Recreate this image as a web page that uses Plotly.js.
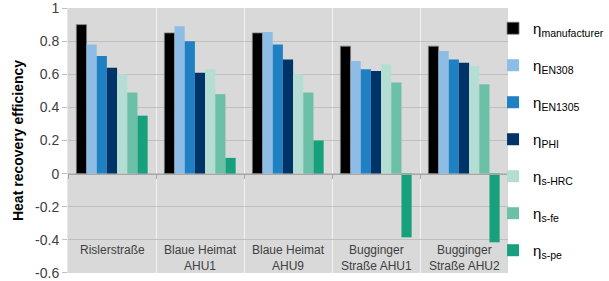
<!DOCTYPE html>
<html><head><meta charset="utf-8">
<script src="https://cdn.plot.ly/plotly-3.0.1.min.js"></script>
<style>html,body{margin:0;padding:0;background:#fff}#c{width:609px;height:281px}</style>
</head><body><div id="c"></div>
<script>
const categories = ["Rislerstraße", "Blaue Heimat<br>AHU1", "Blaue Heimat<br>AHU9", "Bugginger<br>Straße AHU1", "Bugginger<br>Straße AHU2"];
const seriesNames = ["η<sub>manufacturer</sub>", "η<sub>EN308</sub>", "η<sub>EN1305</sub>", "η<sub>PHI</sub>", "η<sub>s-HRC</sub>", "η<sub>s-fe</sub>", "η<sub>s-pe</sub>"];
const etaManufacturer = [0.90, 0.85, 0.85, 0.77, 0.77];
const etaEN308 = [0.78, 0.89, 0.855, 0.68, 0.74];
const etaEN1305 = [0.71, 0.80, 0.78, 0.63, 0.69];
const etaPHI = [0.64, 0.61, 0.69, 0.62, 0.67];
const etaSHRC = [0.60, 0.63, 0.60, 0.66, 0.65];
const etaSFe = [0.49, 0.48, 0.49, 0.55, 0.54];
const etaSPe = [0.35, 0.095, 0.20, -0.385, -0.415];
const yTicks = [1, 0.8, 0.6, 0.4, 0.2, 0, -0.2, -0.4, -0.6];
const colors = ["#000000", "#8dbde6", "#1f80c4", "#003469", "#b4ddd3", "#6cc0a8", "#17a07c"];

const allSeries = [etaManufacturer, etaEN308, etaEN1305, etaPHI, etaSHRC, etaSFe, etaSPe];
const traces = allSeries.map((vals, i) => ({
  type: "bar", x: categories, y: vals, name: seriesNames[i],
  legendgroup: "g" + i,
  marker: {color: colors[i], line: {width: i === 0 ? 0.8 : 0, color: "#7f7f7f"}}
}));

const annotations = categories.map(c => ({
  x: c, y: -0.405, xref: "x", yref: "y", text: c, showarrow: false,
  yanchor: "top", align: "center",
  font: {family: "Liberation Sans, Arial, sans-serif", size: 12, color: "#404040"}
}));

const layout = {
  width: 609, height: 281,
  margin: {l: 68, r: 101, t: 8, b: 8, autoexpand: false},
  paper_bgcolor: "#ffffff", plot_bgcolor: "#d9d9d9",
  barmode: "group", bargap: 0.19, bargroupgap: 0,
  showlegend: true,
  legend: {x: 0.966, xanchor: "left", y: 0.985, yanchor: "top", itemwidth: 30,
    font: {family: "Liberation Sans, Arial, sans-serif", size: 15, color: "#000"},
    tracegroupgap: 14.5, bgcolor: "rgba(0,0,0,0)"},
  xaxis: {type: "category", anchor: "free", position: 0.375,
    showticklabels: false, tickson: "boundaries", ticks: "outside", ticklen: 4,
    tickcolor: "#a6a6a6", showline: true, linecolor: "#a6a6a6", linewidth: 1,
    showgrid: true, gridcolor: "#f2f2f2", gridwidth: 1, zeroline: false},
  yaxis: {range: [-0.6005, 1.0005], tickvals: yTicks, ticktext: yTicks.map(v => String(v)),
    ticklabeloverflow: "allow",
    showgrid: true, gridcolor: "#bfbfbf", gridwidth: 1, zeroline: false,
    ticks: "outside", ticklen: 5, tickcolor: "#bfbfbf", showline: true, linecolor: "#e6e6e6",
    tickfont: {family: "Liberation Sans, Arial, sans-serif", size: 14, color: "#404040"},
    title: {text: "Heat recovery efficiency", standoff: 8,
      font: {family: "Liberation Sans, Arial, sans-serif", size: 14, color: "#000", weight: "bold"}}},
  annotations: annotations
};
Plotly.newPlot("c", traces, layout, {staticPlot: true, displayModeBar: false});
</script></body></html>
